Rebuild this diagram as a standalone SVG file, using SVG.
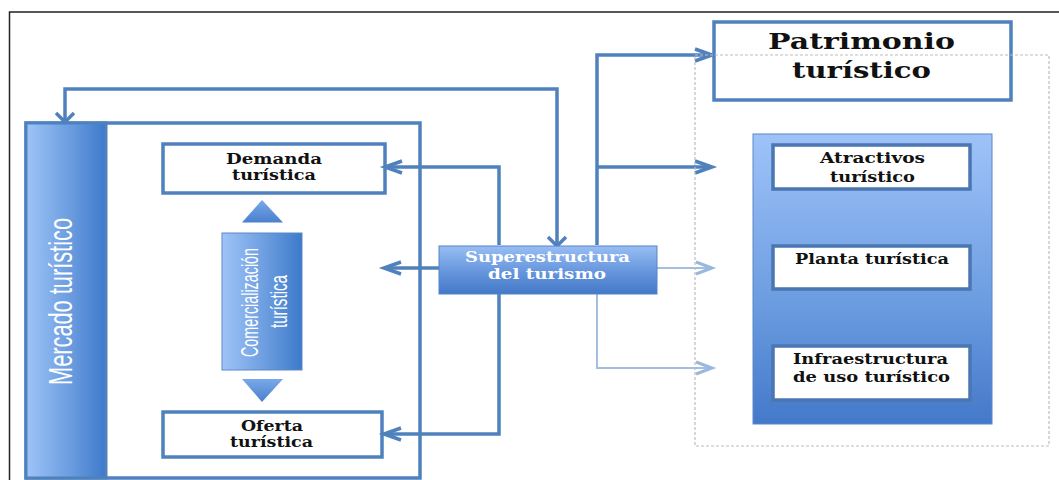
<svg xmlns="http://www.w3.org/2000/svg" width="1059" height="480" viewBox="0 0 1059 480">
<defs>
<linearGradient id="gh" x1="0" y1="0" x2="1" y2="0">
<stop offset="0" stop-color="#9fc4f8"/><stop offset="0.6" stop-color="#6699dd"/><stop offset="1" stop-color="#3d7acb"/>
</linearGradient>
<linearGradient id="gv" x1="0" y1="0" x2="0" y2="1">
<stop offset="0" stop-color="#9fc3f8"/><stop offset="0.6" stop-color="#6a9be0"/><stop offset="1" stop-color="#4479ca"/>
</linearGradient>
<linearGradient id="gs" x1="0" y1="0" x2="0" y2="1">
<stop offset="0" stop-color="#98bdf4"/><stop offset="0.55" stop-color="#6595dc"/><stop offset="1" stop-color="#4479c8"/>
</linearGradient>
<linearGradient id="gt" x1="0" y1="0" x2="0" y2="1">
<stop offset="0" stop-color="#7aa8ea"/><stop offset="1" stop-color="#4a80cd"/>
</linearGradient>
</defs>
<style>
.frame{fill:none;stroke:#222;stroke-width:1.5}
.bx{fill:#fff;stroke:#4f81bd;stroke-width:3.5}
.ib{fill:#fff;stroke:#4a76b2;stroke-width:3.5}
.ln{fill:none;stroke:#4f81bd;stroke-width:3.5;stroke-linejoin:miter}
.lt{fill:none;stroke:#a3bfe0;stroke-width:2}
.ah{fill:none;stroke:#4f81bd;stroke-width:3.5;stroke-linejoin:miter}
.ahl{fill:none;stroke:#9ab8df;stroke-width:3}
.t{font-family:"DejaVu Serif","Liberation Serif",serif;font-weight:bold;font-size:14px;fill:#111}
.tw{font-family:"DejaVu Serif","Liberation Serif",serif;font-weight:bold;font-size:14px;fill:#fff}
.tp{font-family:"DejaVu Serif","Liberation Serif",serif;font-weight:bold;font-size:23px;fill:#111}
.tr{font-family:"Liberation Sans",Arial,sans-serif;fill:#fff}
.dash{fill:none;stroke:#bdbdbd;stroke-width:1.2;stroke-dasharray:3 2}
</style>
<rect x="0" y="0" width="1059" height="480" fill="#fff"/>
<rect class="frame" x="9.5" y="12" width="1070" height="490"/>

<g id="mercado">
<rect class="bx" x="26" y="123" width="394" height="355"/>
<rect x="26" y="123" width="80" height="355" fill="url(#gh)" stroke="#4f81bd" stroke-width="3"/>
<text class="tr" font-size="34" transform="translate(72,385) rotate(-90)" textLength="167" lengthAdjust="spacingAndGlyphs">Mercado turístico</text>
</g>

<g id="demanda">
<rect class="bx" x="163" y="144" width="222" height="49"/>
<text class="t" x="226" y="164" textLength="96" lengthAdjust="spacingAndGlyphs">Demanda</text>
<text class="t" x="232" y="180" textLength="84" lengthAdjust="spacingAndGlyphs">turística</text>
</g>

<g id="comercializacion">
<polygon points="262,200 242,222.5 283,222.5" fill="url(#gt)"/>
<rect x="222" y="233" width="80" height="137" fill="url(#gh)" stroke="#5a88c8" stroke-width="1"/>
<text class="tr" font-size="24" transform="translate(258,357) rotate(-90)" textLength="109" lengthAdjust="spacingAndGlyphs">Comercialización</text>
<text class="tr" font-size="24" transform="translate(287,328) rotate(-90)" textLength="53" lengthAdjust="spacingAndGlyphs">turística</text>
<polygon points="242,379 283,379 262,402" fill="url(#gt)"/>
</g>

<g id="oferta">
<rect class="bx" x="163" y="412" width="219" height="45"/>
<text class="t" x="241" y="431" textLength="62" lengthAdjust="spacingAndGlyphs">Oferta</text>
<text class="t" x="230" y="447" textLength="83" lengthAdjust="spacingAndGlyphs">turística</text>
</g>

<g id="connectors">
<path class="ln" d="M557,245 V89 H65 V121"/>
<polyline class="ah" points="56,113 65,122 74,113"/>
<path class="ln" d="M499,245 V167 H385"/>
<polyline class="ah" points="402,161 385,167 402,173"/>
<path class="ln" d="M499,294 V434 H384"/>
<polyline class="ah" points="401,428 384,434 401,440"/>
<path class="ln" d="M439,268 H384"/>
<polyline class="ah" points="401,262 384,268 401,274"/>
<path class="ln" d="M597,245 V55 H711"/>
<polyline class="ah" points="695,49 712,55 695,61"/>
<path class="ln" d="M597,167 H711"/>
<polyline class="ah" points="695,161 712,167 695,173"/>
<polyline class="ah" points="548,237 557,246 566,237"/>
<path class="lt" d="M657,268 H711"/>
<polyline class="ahl" points="696,262 712,268 696,274"/>
<path class="lt" d="M597,294 V368 H711"/>
<polyline class="ahl" points="696,362 712,368 696,374"/>
</g>

<g id="superestructura">
<rect x="439" y="246" width="218" height="48" fill="url(#gs)" stroke="#5585c8" stroke-width="1"/>
<text class="tw" x="465" y="262" textLength="165" lengthAdjust="spacingAndGlyphs">Superestructura</text>
<text class="tw" x="488" y="279" textLength="118" lengthAdjust="spacingAndGlyphs">del turismo</text>
</g>

<g id="patrimonio">
<rect class="bx" x="714" y="22" width="297" height="78"/>
<rect class="dash" x="695" y="55" width="354" height="391"/>
<text class="tp" x="768" y="49" textLength="187" lengthAdjust="spacingAndGlyphs">Patrimonio</text>
<text class="tp" x="792" y="78" textLength="139" lengthAdjust="spacingAndGlyphs">turístico</text>
</g>

<g id="panel">
<rect x="753" y="134" width="239" height="290" fill="url(#gv)" stroke="#5a88c8" stroke-width="1"/>
</g>

<g id="atractivos">
<rect class="ib" x="773" y="145" width="197" height="44"/>
<text class="t" x="820" y="163" textLength="105" lengthAdjust="spacingAndGlyphs">Atractivos</text>
<text class="t" x="830" y="181.5" textLength="85" lengthAdjust="spacingAndGlyphs">turístico</text>
</g>

<g id="planta">
<rect class="ib" x="773" y="246" width="197" height="43"/>
<text class="t" x="795" y="264" textLength="154" lengthAdjust="spacingAndGlyphs">Planta turística</text>
</g>

<g id="infraestructura">
<rect class="ib" x="773" y="346" width="197" height="54"/>
<text class="t" x="793" y="364" textLength="155" lengthAdjust="spacingAndGlyphs">Infraestructura</text>
<text class="t" x="793" y="381.5" textLength="157" lengthAdjust="spacingAndGlyphs">de uso turístico</text>
</g>
</svg>
